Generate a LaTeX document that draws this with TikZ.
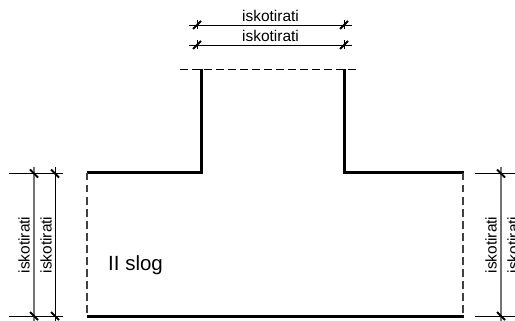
\documentclass[tikz,border=0pt]{standalone}
\usepackage{fontspec}
\setmainfont{Liberation Sans}
\tikzset{
  x=1pt,y=-1pt,
  wall/.style={line width=3pt,line cap=butt},
  open/.style={line width=1.1pt,dash pattern=on 7.5pt off 4.5pt,black!75},
  dimline/.style={line width=0.9pt},
  dimgray/.style={line width=1.2pt,black!55},
  tick/.style={line width=2pt},
  ext/.style={line width=0.7pt},
  lab/.style={font=\fontsize{15.5pt}{16pt}\selectfont,inner sep=0pt},
}
\begin{document}
\begin{tikzpicture}
\useasboundingbox (0,0) rectangle (515,321);
\clip (0,0) rectangle (515,321);
% walls
\coordinate (a) at (87,173);\coordinate (b) at (201,173);\coordinate (c) at (201,69);
\coordinate (d) at (344.5,69);\coordinate (e) at (344.5,173);\coordinate (f) at (464,173);
\coordinate (g) at (87,316);\coordinate (h) at (464,316);
\draw[wall,line join=miter] (a) -- (b) -- (c);
\draw[wall,line join=miter] (d) -- (e) -- (f);
\draw[wall] (g) -- (h);
\draw[open] (87,173) -- (87,316);
\draw[open] (463,173) -- (463,316);
\draw[line width=1pt,dash pattern=on 7.5pt off 4.5pt] (180,69.5) -- (360,69.5);
% top dimensions
\draw[dimline] (189,25) -- (352,25);
\draw[dimline] (189,45) -- (352,45);
\foreach \yy in {25,45}{
  \draw[ext] (197,\yy-5) -- (197,\yy+4);
  \draw[ext] (344,\yy-5) -- (344,\yy+4);
  \draw[tick] (193,\yy+4) -- (201,\yy-4);
  \draw[tick] (340,\yy+4) -- (348,\yy-4);
}
\node[lab] (t1) at (270.5,15.5) {iskotirati};
\node[lab] (t2) at (270.5,35.5) {iskotirati};
% left dimensions
\draw[ext] (9,173.5) -- (63,173.5);
\draw[ext] (9,316) -- (63,316);
\draw[dimgray] (34,167) -- (34,321);
\draw[dimline] (55,167) -- (55,321);
\foreach \xx in {34,55}{
  \draw[tick] (\xx-4,169.5) -- (\xx+4,177.5);
  \draw[tick] (\xx-4,312) -- (\xx+4,320);
}
\node[lab,rotate=90] (l1) at (24,245) {iskotirati};
\node[lab,rotate=90] (l2) at (46,245) {iskotirati};
% right dimensions
\draw[ext] (475,173.5) -- (515,173.5);
\draw[ext] (475,316) -- (515,316);
\draw[dimgray] (501,167) -- (501,321);
\draw[tick] (497,169.5) -- (505,177.5);
\draw[tick] (497,312) -- (505,320);
\node[lab,rotate=90] (r1) at (491,245) {iskotirati};
\node[lab,rotate=90] (r2) at (513,245) {iskotirati};
% room label
\node[font=\fontsize{20.5pt}{22pt}\selectfont,inner sep=0pt,anchor=west] (s) at (108,265) {II slog};
\end{tikzpicture}
\end{document}
